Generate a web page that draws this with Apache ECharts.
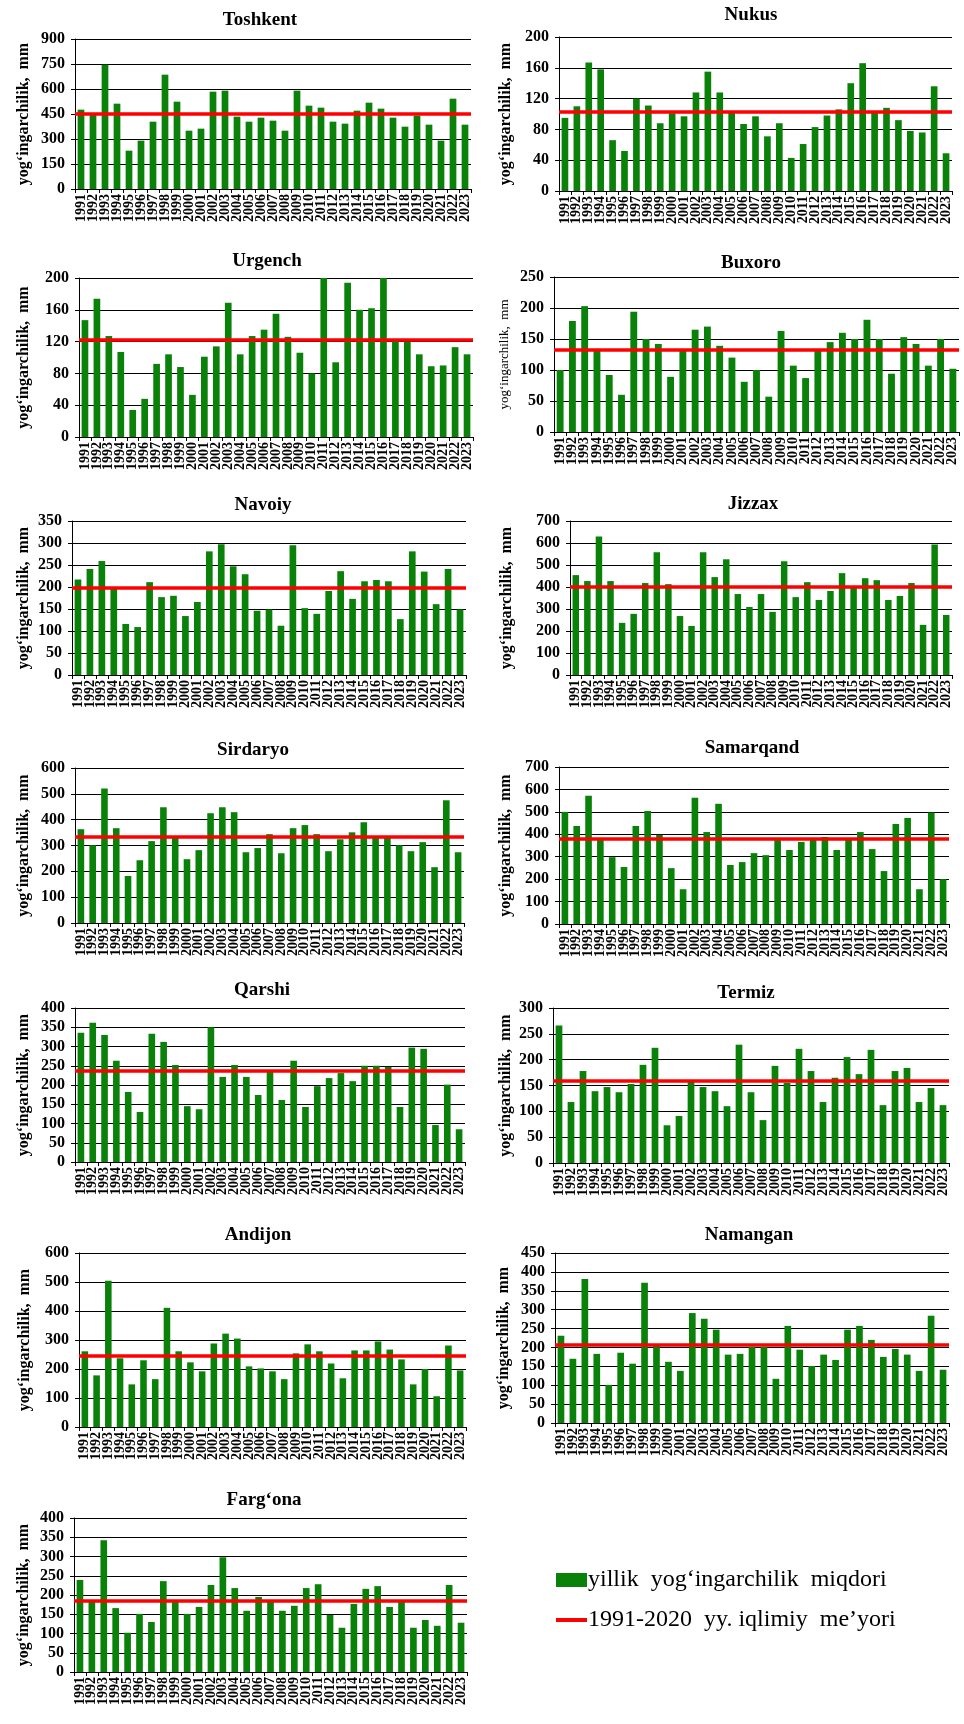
<!DOCTYPE html>
<html>
<head>
<meta charset="utf-8">
<script src="https://cdn.jsdelivr.net/npm/echarts@6/dist/echarts.min.js"></script>
<style>
html, body { margin: 0; padding: 0; background: #fff; }
#main { width: 964px; height: 1724px; }
</style>
</head>
<body>
<div id="main"></div>
<script>
var years = ['1991','1992','1993','1994','1995','1996','1997','1998','1999','2000',
  '2001','2002','2003','2004','2005','2006','2007','2008','2009','2010',
  '2011','2012','2013','2014','2015','2016','2017','2018','2019','2020',
  '2021','2022','2023'];

var stations = ['Toshkent','Nukus','Urgench','Buxoro','Navoiy','Jizzax','Sirdaryo',
  'Samarqand','Qarshi','Termiz','Andijon','Namangan','Farg‘ona'];

// yillik yog'ingarchilik, mm
var toshkent  = [476,455,746,512,230,290,404,686,524,350,362,584,590,434,404,428,410,350,590,500,488,404,392,470,518,482,428,374,440,386,290,542,386];
var nukus     = [95,110,167,158,66,52,120,111,88,101,97,128,155,128,102,87,97,71,88,43,61,83,98,106,140,166,102,108,92,78,76,136,49];
var urgench   = [147,174,127,107,34,48,92,104,88,53,101,114,169,104,127,135,155,126,106,80,200,94,194,160,162,200,121,120,104,89,90,113,104];
var buxoro    = [100,179,203,131,92,60,194,150,142,89,131,165,170,139,120,81,100,57,163,107,87,132,145,160,150,181,150,94,153,142,107,150,102];
var navoiy    = [217,241,259,198,116,109,211,177,180,134,166,281,297,247,229,146,149,112,295,152,139,191,236,173,213,216,213,127,281,235,161,241,149];
var jizzax    = [454,427,630,427,237,278,418,558,413,268,223,558,445,526,368,309,368,287,517,354,422,341,382,463,400,440,431,341,359,418,228,593,273];
var sirdaryo  = [363,301,521,367,182,243,317,448,330,247,282,425,448,429,274,290,344,270,367,379,344,278,324,351,390,335,333,301,278,313,216,475,274];
var samarqand = [500,437,572,375,298,254,437,504,397,249,155,563,410,536,263,276,316,307,374,330,366,375,388,330,375,410,334,236,446,473,155,497,200];
var qarshi    = [336,362,330,263,182,130,333,312,252,145,137,350,221,252,221,174,237,161,263,143,197,218,231,210,250,250,247,143,297,294,96,201,85];
var termiz    = [266,118,178,139,147,137,153,190,223,73,91,158,147,139,110,229,137,83,188,155,221,178,118,165,205,172,219,112,178,184,118,145,112];
var andijon   = [261,178,504,237,147,230,165,411,261,223,192,288,322,305,209,202,192,165,254,285,261,219,168,264,264,295,267,233,147,200,106,281,195];
var namangan  = [231,170,381,183,101,186,157,371,204,162,138,291,276,247,181,183,202,202,117,257,194,151,181,167,247,257,220,175,196,181,138,284,141];
var fargona   = [239,185,342,166,102,151,130,236,187,151,169,226,298,218,159,195,187,159,172,218,228,148,115,177,216,223,169,187,115,135,120,226,128];

var values = [toshkent, nukus, urgench, buxoro, navoiy, jizzax, sirdaryo,
  samarqand, qarshi, termiz, andijon, namangan, fargona];

// 1991-2020 iqlimiy me'yor
var norms = [454,103,122,132,199,403,335,378,238,160,245,206,186];

// y o'qi shkalasi
var yMax  = [900,200,200,250,350,700,600,700,400,300,600,450,400];
var yStep = [150,40,40,50,50,100,100,100,50,50,100,50,50];

var barName  = 'yillik  yog‘ingarchilik  miqdori';
var normName = '1991-2020  yy. iqlimiy  me’yori';
var yName    = 'yog‘ingarchilik,  mm';

// joylashuv: left, top, right, bottom, titleX, titleY, nameX
var boxes = [
  [75, 39, 471, 189, 260, 22, 24],
  [559, 37, 952, 191, 751, 17, 506],
  [79, 278, 473, 437, 267, 263, 24],
  [554, 277, 959, 432, 751, 265, 505],
  [72, 521, 466, 675, 263, 507, 24],
  [570, 521, 952, 675, 753, 506, 507],
  [75, 768, 464, 923, 253, 752, 24],
  [559, 767, 949, 924, 752, 750, 506],
  [75, 1008, 465, 1162, 262, 992, 24],
  [553, 1008, 949, 1163, 746, 995, 506],
  [79, 1253, 466, 1427, 258, 1237, 25],
  [555, 1253, 949, 1423, 749, 1237, 504],
  [74, 1518, 467, 1672, 264, 1502, 24]
];

var FONT = "'Liberation Serif', 'Times New Roman', serif";
var GREEN = '#0a820a';
var RED = '#ff0000';

var chart = echarts.init(document.getElementById('main'), null, { renderer: 'canvas' });

var titles = [], grids = [], xAxes = [], yAxes = [], series = [];

for (var i = 0; i < stations.length; i++) {
  var b = boxes[i];
  var bold = i !== 3;
  var nameSize = bold ? 16 : 13;
  titles.push({
    text: stations[i],
    left: b[4],
    top: b[5] - 11,
    textAlign: 'center',
    padding: 0,
    textStyle: { fontFamily: FONT, fontWeight: 'bold', fontSize: 19, color: '#000' }
  });
  grids.push({ left: b[0], top: b[1], width: b[2] - b[0], height: b[3] - b[1] });
  xAxes.push({
    type: 'category',
    gridIndex: i,
    data: years,
    axisLine: { lineStyle: { color: '#000', width: 1 } },
    axisTick: { show: true, length: 4, lineStyle: { color: '#000' } },
    axisLabel: { interval: 0, rotate: 90, margin: 5, fontFamily: FONT, fontWeight: 'bold', fontSize: 14, color: '#000' }
  });
  yAxes.push({
    type: 'value',
    gridIndex: i,
    min: 0,
    max: yMax[i],
    interval: yStep[i],
    name: yName,
    nameLocation: 'middle',
    nameGap: b[0] - b[6] - nameSize / 2,
    nameTextStyle: { fontFamily: FONT, fontWeight: bold ? 'bold' : 'normal', fontSize: nameSize, color: '#000' },
    axisLine: { show: true, lineStyle: { color: '#000', width: 1 } },
    axisTick: { show: true, length: 4, lineStyle: { color: '#000' } },
    axisLabel: { margin: 10, fontFamily: FONT, fontWeight: 'bold', fontSize: 16, color: '#000' },
    splitLine: { show: true, lineStyle: { color: '#000', width: 1 } }
  });
  series.push({
    name: barName,
    type: 'bar',
    xAxisIndex: i,
    yAxisIndex: i,
    data: values[i],
    barCategoryGap: '44%',
    itemStyle: { color: GREEN },
    silent: true
  });
  series.push({
    name: normName,
    type: 'line',
    xAxisIndex: i,
    yAxisIndex: i,
    data: [],
    symbol: 'none',
    showSymbol: false,
    lineStyle: { color: RED, width: 4 },
    itemStyle: { color: RED },
    markLine: {
      silent: true,
      symbol: ['none', 'none'],
      label: { show: false },
      lineStyle: { color: RED, width: 3.5, type: 'solid' },
      data: [{ yAxis: norms[i] }]
    }
  });
}

chart.setOption({
  animation: false,
  backgroundColor: '#fff',
  title: titles,
  grid: grids,
  xAxis: xAxes,
  yAxis: yAxes,
  legend: {
    data: [
      { name: barName, icon: 'rect', itemStyle: { color: GREEN } },
      { name: normName, icon: 'path://M0,0 L31,0 L31,4 L0,4 Z', itemStyle: { color: RED } }
    ],
    orient: 'vertical',
    left: 556,
    top: 1568,
    itemWidth: 31,
    itemHeight: 14,
    itemGap: 16,
    padding: 0,
    textStyle: { fontFamily: FONT, fontSize: 24, color: '#000', padding: [0, 0, 0, -4] }
  },
  series: series
});
</script>
</body>
</html>
